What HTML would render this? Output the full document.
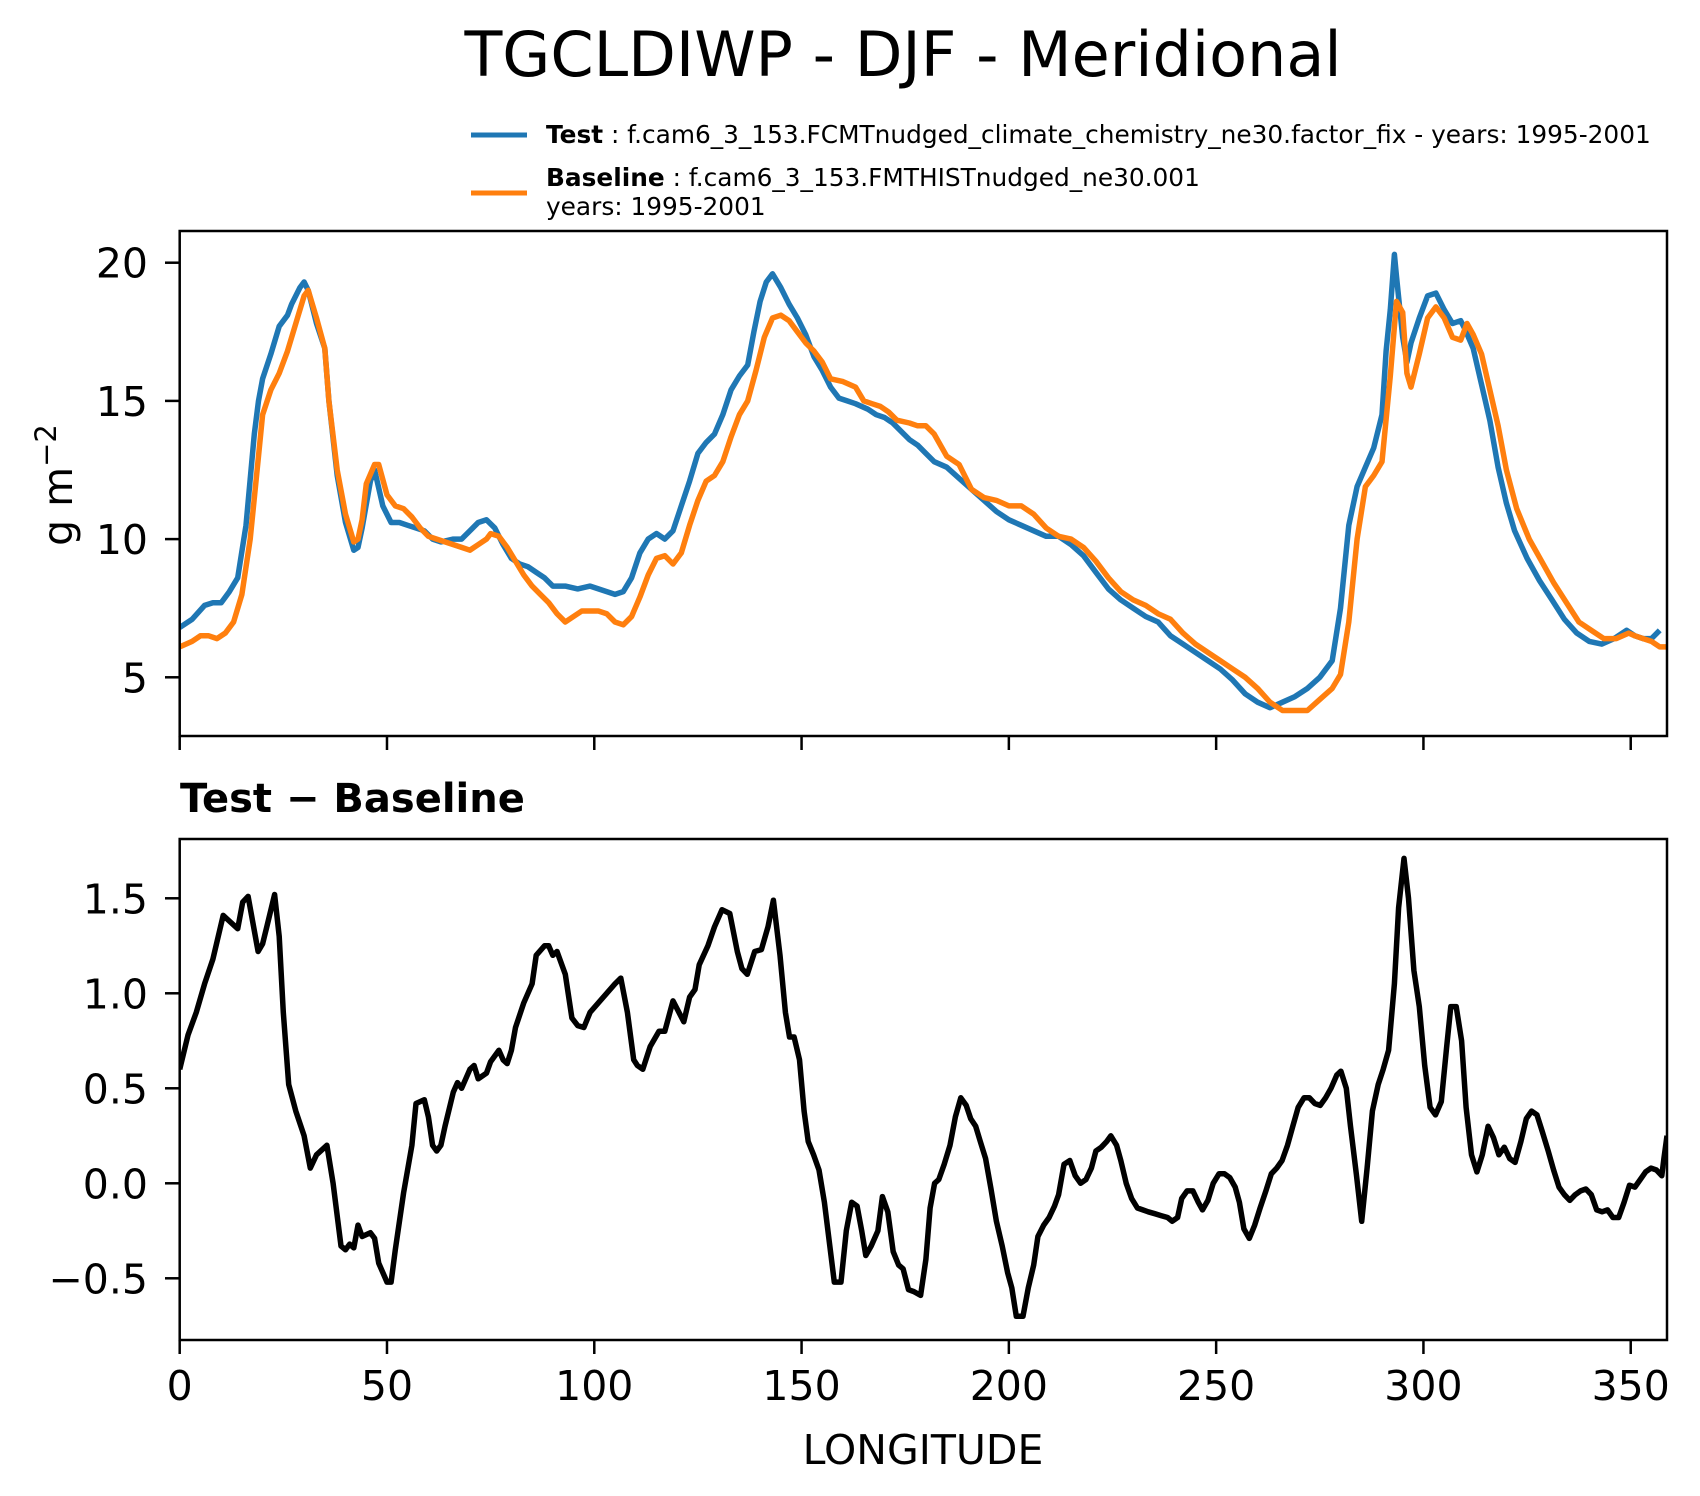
<!DOCTYPE html>
<html><head><meta charset="utf-8"><style>
body{margin:0;background:#fff}
svg{display:block;font-family:"DejaVu Sans","Liberation Sans",sans-serif}
</style></head><body>
<svg id="fig" width="1700" height="1496" viewBox="0 0 1700 1496">
<rect width="1700" height="1496" fill="#fff"/>
<text x="903" y="76" font-size="62" text-anchor="middle">TGCLDIWP - DJF - Meridional</text>
<g>
<line x1="471" y1="135" x2="527" y2="135" stroke="#1f77b4" stroke-width="5"/>
<text x="546" y="143" font-size="24.8"><tspan font-weight="bold">Test</tspan> : f.cam6_3_153.FCMTnudged_climate_chemistry_ne30.factor_fix - years: 1995-2001</text>
<line x1="471" y1="193" x2="527" y2="193" stroke="#ff7f0e" stroke-width="5"/>
<text x="546" y="186" font-size="24.8"><tspan font-weight="bold">Baseline</tspan> : f.cam6_3_153.FMTHISTnudged_ne30.001</text>
<text x="546" y="215" font-size="24.8">years: 1995-2001</text>
</g>
<g id="gtop"></g>
<g id="gbot"></g>
<text x="180" y="812" font-size="40" font-weight="bold">Test − Baseline</text>
<text transform="translate(72,485) rotate(-90)" font-size="41" text-anchor="middle">g m<tspan dy="-16" font-size="29">−2</tspan></text>
<text x="923" y="1464" font-size="41" text-anchor="middle">LONGITUDE</text>
</svg>
<script>
const testLon=[0,3,6,8,10,12,14,16,18,19,20,22,24,26,27,29,30,31,33,35,36,38,40,42,43,44,46,47,49,51,53,55,57,59,61,63,66,68,70,72,74,76,78,80,82,84,86,88,90,93,96,99,101,103,105,107,109,111,113,115,117,119,121,123,125,127,129,131,133,135,137,138.5,140,141.5,143,145,147,149,151,153,155,157,159,161,163,166,168,170,172,174,176,178,180,182,185,188,191,194,197,200,203,206,209,212,215,218,221,224,227,230,233,236,239,242,245,248,251,254,257,260,263,266,269,272,275,278,280,282,284,286,288,290,291,292,293,293.5,295,296,297,299,301,303,305,307,309,310,312,314,316,318,320,322,325,328,331,334,337,340,343,346,349,351,353,355,357,358.75];
const testVal=[6.8,7.1,7.6,7.7,7.7,8.1,8.6,10.5,13.8,15.0,15.8,16.7,17.7,18.1,18.5,19.1,19.3,19.0,17.8,16.9,15.0,12.3,10.6,9.6,9.7,10.4,12.1,12.5,11.2,10.6,10.6,10.5,10.4,10.3,10.0,9.9,10.0,10.0,10.3,10.6,10.7,10.4,9.8,9.3,9.1,9.0,8.8,8.6,8.3,8.3,8.2,8.3,8.2,8.1,8.0,8.1,8.6,9.5,10.0,10.2,10.0,10.3,11.2,12.1,13.1,13.5,13.8,14.5,15.4,15.9,16.3,17.5,18.6,19.3,19.6,19.1,18.5,18.0,17.4,16.6,16.1,15.5,15.1,15.0,14.9,14.7,14.5,14.4,14.2,13.9,13.6,13.4,13.1,12.8,12.6,12.2,11.8,11.4,11.0,10.7,10.5,10.3,10.1,10.1,9.8,9.4,8.8,8.2,7.8,7.5,7.2,7.0,6.5,6.2,5.9,5.6,5.3,4.9,4.4,4.1,3.9,4.1,4.3,4.6,5.0,5.6,7.5,10.5,11.9,12.6,13.3,14.5,16.8,18.3,20.3,19.5,17.3,16.4,17.1,18.0,18.8,18.9,18.3,17.8,17.9,17.6,16.9,15.6,14.3,12.6,11.3,10.3,9.3,8.5,7.8,7.1,6.6,6.3,6.2,6.4,6.7,6.5,6.4,6.4,6.7];
const baseLon=[0,3,5,7,9,11,13,15,17,19,20,22,24,26,28,30,31,33,35,36,38,40,42,43,44,45,47,48,50,52,54,56,58,60,62,64,66,68,70,72,74,75,77,79,81,83,85,87,89,91,93,95,97,99,101,103,105,107,109,111,113,115,117,119,121,123,125,127,129,131,133,135,137,139,141,143,145,147,149,151,153,155,157,160,163,165,167,169,171,173,176,178,180,182,185,188,191,194,197,200,203,206,209,212,215,218,221,224,227,230,233,236,239,242,245,248,251,254,257,260,263,266,269,272,275,278,280,282,284,286,288,290,292,293.5,295,296,297,299,301,303,305,307,309,310.5,312,314,316,318,320,322.5,325.5,328.5,331.5,334.5,337.5,340.5,343.5,346.5,349.5,351,353,355,357,358.75];
const baseVal=[6.1,6.3,6.5,6.5,6.4,6.6,7.0,8.0,10.0,13.0,14.5,15.4,16.0,16.8,17.8,18.8,19.0,18.0,16.9,15.0,12.5,10.9,9.9,10.0,10.7,12.0,12.7,12.7,11.6,11.2,11.1,10.8,10.4,10.1,10.0,9.9,9.8,9.7,9.6,9.8,10.0,10.2,10.1,9.7,9.2,8.7,8.3,8.0,7.7,7.3,7.0,7.2,7.4,7.4,7.4,7.3,7.0,6.9,7.2,7.9,8.7,9.3,9.4,9.1,9.5,10.5,11.4,12.1,12.3,12.8,13.7,14.5,15.0,16.1,17.3,18.0,18.1,17.9,17.5,17.1,16.8,16.4,15.8,15.7,15.5,15.0,14.9,14.8,14.6,14.3,14.2,14.1,14.1,13.8,13.0,12.7,11.8,11.5,11.4,11.2,11.2,10.9,10.4,10.1,10.0,9.7,9.2,8.6,8.1,7.8,7.6,7.3,7.1,6.6,6.2,5.9,5.6,5.3,5.0,4.6,4.1,3.8,3.8,3.8,4.2,4.6,5.1,7.0,10.0,11.9,12.3,12.8,15.9,18.6,18.2,16.0,15.5,16.7,18.0,18.4,18.0,17.3,17.2,17.8,17.4,16.7,15.4,14.1,12.5,11.1,10.0,9.2,8.4,7.7,7.0,6.7,6.4,6.4,6.6,6.5,6.4,6.3,6.1,6.1];
const diffLon=[0,2,4,6,8,10.5,12,14,15.2,16.5,18.9,20,21,22.9,24,25,26.3,28,30,31.5,33,35.5,37,38.9,40,41,42,43,44,46,47,48,50,51,52,54,56,57,59,60,61,62,63,64,66,67,68,70,71,72,74,75,77,78,79,80,81,83,85,86,88,89,90,91,93,94.6,96,97.5,99,101,103,105,106.4,108,109.5,110.4,111.7,113.5,115.6,117,119,121.6,123,124.3,125.3,127.4,129,130.8,132.7,134.5,135.6,136.9,138.7,140.3,141.9,143.2,144.8,146.1,147.1,148.2,149.5,150.6,151.6,152.9,154.2,155.5,157.1,157.9,159.5,160.8,162.1,163.4,164.5,165.5,166.8,168.4,169.5,170.8,172.1,173.4,174.5,175.8,177.1,178.7,180,181,182.1,183.1,184.4,185.8,187.1,188.4,189.7,190.8,192,193.1,194.4,195.7,197,198.4,199.7,200.7,201.8,203.4,204.7,206,207,208.4,209.7,211,212,213.3,214.7,216,217.3,218.6,219.9,221,222.3,223.6,224.6,226,227,228.3,229.6,231,232.3,233.6,235.2,236.7,238.3,239.4,240.7,241.7,243,244.4,245.7,246.7,248,249.3,250.7,252,253.3,254.6,255.6,256.7,258,259.3,260.6,262,263.3,264.6,265.9,267.2,268.5,269.8,271.2,272.5,273.8,275.1,276.4,277.7,279.1,280.1,281.4,282.4,283.8,285.1,286.4,287.7,289.1,290.3,291.6,293,294,295.3,296.4,297.7,299,300.3,301.6,302.9,304.3,305.6,306.6,307.9,309.2,310.3,311.6,312.9,314.2,315.6,316.9,318.2,319.5,320.8,322.1,323.5,324.8,326.1,327.4,328.7,330.1,331.4,332.7,334,335.3,336.6,337.9,339.2,340.5,341.8,343.1,344.4,345.7,347.1,348.4,349.7,351,352.3,353.6,354.9,356.2,357.5,358,358.75];
const diffVal=[0.6,0.78,0.9,1.05,1.18,1.41,1.38,1.34,1.48,1.51,1.22,1.26,1.35,1.52,1.3,0.9,0.52,0.38,0.25,0.08,0.15,0.2,0.0,-0.33,-0.35,-0.32,-0.34,-0.22,-0.28,-0.26,-0.29,-0.42,-0.52,-0.52,-0.35,-0.05,0.2,0.42,0.44,0.35,0.2,0.17,0.2,0.3,0.48,0.53,0.5,0.6,0.62,0.55,0.58,0.64,0.7,0.65,0.63,0.7,0.82,0.95,1.05,1.2,1.25,1.25,1.2,1.22,1.1,0.87,0.83,0.82,0.9,0.95,1.0,1.05,1.08,0.9,0.65,0.62,0.6,0.72,0.8,0.8,0.96,0.85,0.98,1.02,1.15,1.25,1.35,1.44,1.42,1.22,1.13,1.1,1.22,1.23,1.35,1.49,1.2,0.9,0.77,0.77,0.65,0.38,0.22,0.15,0.07,-0.1,-0.38,-0.52,-0.52,-0.25,-0.1,-0.12,-0.25,-0.38,-0.33,-0.25,-0.07,-0.15,-0.36,-0.43,-0.45,-0.56,-0.57,-0.59,-0.4,-0.13,0.0,0.02,0.1,0.2,0.35,0.45,0.41,0.34,0.3,0.22,0.13,-0.03,-0.2,-0.33,-0.47,-0.55,-0.7,-0.7,-0.55,-0.43,-0.28,-0.22,-0.18,-0.12,-0.06,0.1,0.12,0.04,0.0,0.02,0.08,0.17,0.19,0.22,0.25,0.2,0.12,0.0,-0.08,-0.13,-0.14,-0.15,-0.16,-0.17,-0.18,-0.2,-0.18,-0.08,-0.04,-0.04,-0.1,-0.14,-0.09,0.0,0.05,0.05,0.03,-0.02,-0.1,-0.24,-0.29,-0.22,-0.13,-0.04,0.05,0.08,0.12,0.2,0.3,0.4,0.45,0.45,0.42,0.41,0.45,0.5,0.57,0.59,0.5,0.3,0.05,-0.2,0.08,0.38,0.52,0.6,0.7,1.05,1.45,1.71,1.5,1.12,0.93,0.62,0.4,0.36,0.43,0.72,0.93,0.93,0.75,0.4,0.15,0.06,0.15,0.3,0.24,0.15,0.19,0.13,0.11,0.22,0.34,0.38,0.36,0.27,0.17,0.07,-0.02,-0.06,-0.09,-0.06,-0.04,-0.03,-0.06,-0.14,-0.15,-0.14,-0.18,-0.18,-0.1,-0.01,-0.02,0.02,0.06,0.08,0.07,0.04,0.13,0.25,0.47];
const xTicks=[0,50,100,150,200,250,300,350];
const topYTicks=[5,10,15,20];
const botYTicks=[-0.5,0.0,0.5,1.0,1.5];
const botYLabels=["−0.5","0.0","0.5","1.0","1.5"];

const NS='http://www.w3.org/2000/svg';
const L=179.7,R=1667;
const xs=v=>L+(v-0)*(R-L)/(358.75-0);
const topY=v=>262.7+(20-v)*27.64;
const botY=v=>1183.3-v*190;
function mk(parent,tag,attrs){const e=document.createElementNS(NS,tag);for(const k in attrs)e.setAttribute(k,attrs[k]);parent.appendChild(e);return e;}
function path(lons,vals,ys){return lons.map((x,i)=>(i?'L':'M')+xs(x).toFixed(1)+','+ys(vals[i]).toFixed(1)).join('');}

const gTop=document.getElementById('gtop'),gBot=document.getElementById('gbot');
const cp=mk(document.getElementById('fig'),'defs',{});
const c1=mk(cp,'clipPath',{id:'c1'});mk(c1,'rect',{x:L,y:231,width:R-L,height:505});
const c2=mk(cp,'clipPath',{id:'c2'});mk(c2,'rect',{x:L,y:839,width:R-L,height:501});

let p=mk(gTop,'path',{d:path(testLon,testVal,topY),fill:'none',stroke:'#1f77b4','stroke-width':5.5,'stroke-linejoin':'round','clip-path':'url(#c1)'});


p=mk(gTop,'path',{d:path(baseLon,baseVal,topY),fill:'none',stroke:'#ff7f0e','stroke-width':5.5,'stroke-linejoin':'round','clip-path':'url(#c1)'});


p=mk(gBot,'path',{d:path(diffLon,diffVal,botY),fill:'none',stroke:'#000','stroke-width':5.5,'stroke-linejoin':'round','clip-path':'url(#c2)'});



let r=mk(gTop,'rect',{x:L,y:231,width:R-L,height:505,fill:'none',stroke:'#000','stroke-width':2.5});


r=mk(gBot,'rect',{x:L,y:839,width:R-L,height:501,fill:'none',stroke:'#000','stroke-width':2.5});



xTicks.forEach(t=>{
  const x=xs(t);
  let l=mk(gTop,'line',{x1:x,y1:736,x2:x,y2:750,stroke:'#000','stroke-width':2.5});
  
  
  l=mk(gBot,'line',{x1:x,y1:1340,x2:x,y2:1354,stroke:'#000','stroke-width':2.5});
  
  
  const tx=mk(gBot,'text',{x:x,y:1400,'font-size':41,'text-anchor':'middle'});
  tx.textContent=String(t);
  
  
});
topYTicks.forEach(t=>{
  const y=topY(t);
  const l=mk(gTop,'line',{x1:165,y1:y,x2:L,y2:y,stroke:'#000','stroke-width':2.5});
  
  
  const tx=mk(gTop,'text',{x:148,y:y+15,'font-size':41,'text-anchor':'end'});
  tx.textContent=String(t);
  
  
});
botYTicks.forEach((t,i)=>{
  const y=botY(t);
  const l=mk(gBot,'line',{x1:165,y1:y,x2:L,y2:y,stroke:'#000','stroke-width':2.5});
  
  
  const tx=mk(gBot,'text',{x:148,y:y+15,'font-size':41,'text-anchor':'end'});
  tx.textContent=botYLabels[i];
  
  
});
</script>
</body></html>
